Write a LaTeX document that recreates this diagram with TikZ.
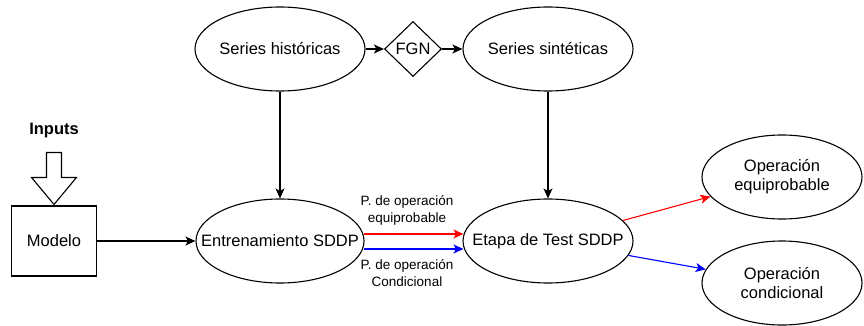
\documentclass[tikz,border=0pt]{standalone}
\usepackage{fontspec}
\setmainfont{Liberation Sans}
\usetikzlibrary{shapes.geometric,arrows.meta,calc}
\begin{document}
\begin{tikzpicture}[x=1pt,y=-1pt,
  every node/.style={font=\fontsize{16.5}{19}\selectfont, text=black},
  ell/.style={draw, line width=1.1pt, ellipse, inner xsep=-25pt, inner ysep=0pt, minimum width=170pt, minimum height=84pt, align=center},
  opell/.style={ell, minimum width=160pt},
  dia/.style={draw, line width=1.1pt, diamond, inner sep=0pt, minimum width=57pt, minimum height=55pt},
  box/.style={draw, line width=1.1pt, rectangle, inner sep=0pt, minimum width=85pt, minimum height=70pt},
  conn/.style={line width=1.1pt, -{Stealth[length=10pt,width=9pt,inset=2.5pt]}},
  lbl/.style={font=\fontsize{13.5}{17}\selectfont, align=center, inner sep=0pt}]
\useasboundingbox (0,0) rectangle (864,326);

\node[ell] (hist) at (280,49) {Series históricas};
\node[dia] (fgn) at (413,49) {FGN};
\node[ell] (sint) at (548,49) {Series sintéticas};
\node[box] (model) at (54,241) {Modelo};
\node[ell, minimum width=168pt] (entr) at (280,241) {Entrenamiento SDDP};
\node[ell] (test) at (548,241) {Etapa de Test SDDP};
\node[opell] (opeq) at (782,177) {Operación\\equiprobable};
\node[opell] (opcond) at (782,283) {Operación\\condicional};
\node[font=\fontsize{16.5}{19}\selectfont\bfseries] (inputs) at (54,131) {Inputs};

\node[lbl] (lbleq) at (407,210) {P. de operación\\equiprobable};
\node[lbl] (lblcond) at (407,273) {P. de operación\\Condicional};

% block arrow
\draw[line width=1.1pt, fill=white]
  ($(model.north)+(-7.5,-53)$) -- ($(model.north)+(7.5,-53)$) --
  ($(model.north)+(7.5,-28)$) -- ($(model.north)+(22.5,-28)$) --
  ($(model.north)+(0,-1)$) -- ($(model.north)+(-22.5,-28)$) --
  ($(model.north)+(-7.5,-28)$) -- cycle;

\draw[conn] (hist) -- (fgn);
\draw[conn] (fgn) -- (sint);
\draw[conn] (hist) -- (entr);
\draw[conn] (sint) -- (test);
\draw[conn] (model) -- (entr);
\draw[conn, red] ($(entr.east)+(-1,-7)$) -- ($(test.west)+(1,-7)$);
\draw[conn, blue] ($(entr.east)+(-1,8)$) -- ($(test.west)+(1,8)$);
\draw[conn, red] (test) -- (opeq);
\draw[conn, blue] (test) -- (opcond);
\end{tikzpicture}
\end{document}
